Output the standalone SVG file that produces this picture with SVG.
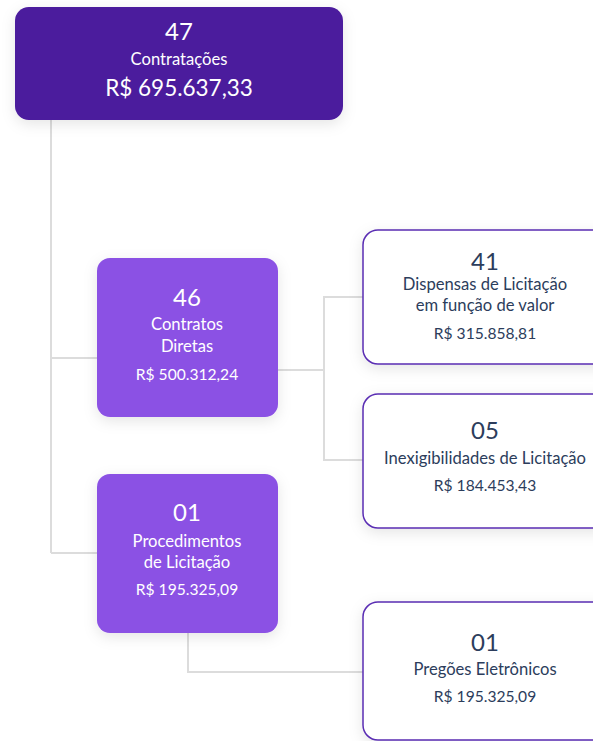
<svg xmlns="http://www.w3.org/2000/svg" width="593" height="741" viewBox="0 0 593 741">
<defs>
<filter id="sh" x="-20%" y="-20%" width="140%" height="150%">
<feDropShadow dx="0" dy="4" stdDeviation="7" flood-color="#000" flood-opacity="0.10"/>
</filter>
<style>
.conn{fill:none;stroke:#dcdcdc;stroke-width:2}
.top{fill:#4b1a9d}
.mid{fill:#8b51e4}
.leaf{fill:#fff;stroke:#5a2db3;stroke-width:1.5}
text{font-family:Lato,"Open Sans","Liberation Sans",sans-serif;text-anchor:middle}
.w{fill:#fff}
.d{fill:#2c3d5c}
.big{font-size:24px}
.sm{font-size:16.6px}
.pr{font-size:15.6px}
</style>
</defs>
<rect width="593" height="741" fill="#fff"/>
<g id="connectors">
<path class="conn" d="M51,120 V553"/>
<path class="conn" d="M51,358 H97"/>
<path class="conn" d="M51,553 H97"/>
<path class="conn" d="M278,370 H324"/>
<path class="conn" d="M363,297 H324 V460 H363"/>
<path class="conn" d="M188,633 V672 H363"/>
</g>
<g id="n-total">
<rect class="top" x="15" y="7" width="328" height="113" rx="14" filter="url(#sh)"/>
<text class="w big" x="179" y="40">47</text>
<text class="w sm" x="179" y="65">Contratações</text>
<text class="w" x="179" y="96" font-size="22.5">R$ 695.637,33</text>
</g>
<g id="n-diretas">
<rect class="mid" x="97" y="258" width="181" height="159" rx="13" filter="url(#sh)"/>
<text class="w big" x="187" y="306">46</text>
<text class="w sm" x="187" y="330">Contratos</text>
<text class="w sm" x="187" y="352">Diretas</text>
<text class="w pr" x="187" y="380">R$ 500.312,24</text>
</g>
<g id="n-procedimentos">
<rect class="mid" x="97" y="474" width="181" height="159" rx="13" filter="url(#sh)"/>
<text class="w big" x="187" y="521">01</text>
<text class="w sm" x="187" y="547">Procedimentos</text>
<text class="w sm" x="187" y="568">de Licitação</text>
<text class="w pr" x="187" y="595">R$ 195.325,09</text>
</g>
<g id="n-dispensas">
<rect class="leaf" x="363" y="230" width="260" height="134" rx="15" filter="url(#sh)"/>
<text class="d big" x="485" y="270">41</text>
<text class="d sm" x="485" y="290">Dispensas de Licitação</text>
<text class="d sm" x="485" y="311">em função de valor</text>
<text class="d pr" x="485" y="339">R$ 315.858,81</text>
</g>
<g id="n-inexig">
<rect class="leaf" x="363" y="394" width="260" height="134" rx="15" filter="url(#sh)"/>
<text class="d big" x="485" y="439">05</text>
<text class="d sm" x="485" y="464">Inexigibilidades de Licitação</text>
<text class="d pr" x="485" y="491">R$ 184.453,43</text>
</g>
<g id="n-pregoes">
<rect class="leaf" x="363" y="602" width="260" height="138" rx="15" filter="url(#sh)"/>
<text class="d big" x="485" y="651">01</text>
<text class="d sm" x="485" y="675">Pregões Eletrônicos</text>
<text class="d pr" x="485" y="702">R$ 195.325,09</text>
</g>
</svg>
